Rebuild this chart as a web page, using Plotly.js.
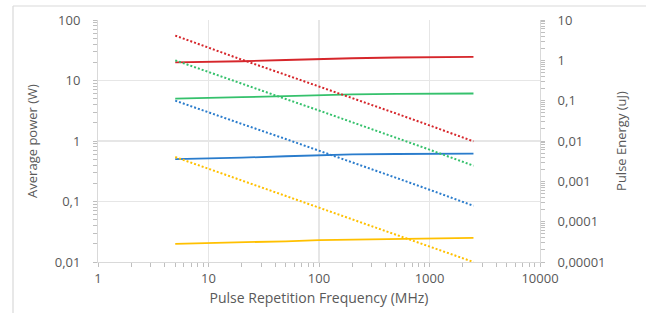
<!DOCTYPE html>
<html>
<head>
<meta charset="utf-8">
<script src="https://cdn.plot.ly/plotly-3.0.1.min.js"></script>
<style>html,body{margin:0;padding:0;background:#fff;}#chart{width:654px;height:313px;}</style>
</head>
<body>
<div id="chart"></div>
<script>
// Pulse repetition frequency (MHz)
const freq = [5, 10, 20, 50, 100, 200, 500, 1000, 2500];
// Average power (W), left axis
const powerRed    = [20, 20.3, 20.8, 21.8, 22.7, 23.3, 24, 24.4, 24.5];
const powerGreen  = [5.0, 5.1, 5.3, 5.5, 5.7, 5.9, 6.0, 6.1, 6.1];
const powerBlue   = [0.5, 0.51, 0.53, 0.56, 0.58, 0.6, 0.61, 0.62, 0.62];
const powerYellow = [0.020, 0.0205, 0.021, 0.022, 0.023, 0.0235, 0.024, 0.0245, 0.025];
// Pulse energy (uJ), right axis
const energyRed    = [4.1, 2.03, 1.04, 0.436, 0.227, 0.117, 0.048, 0.0244, 0.0098];
const energyGreen  = [1.0, 0.51, 0.265, 0.11, 0.057, 0.0295, 0.012, 0.0061, 0.00244];
const energyBlue   = [0.1, 0.051, 0.0265, 0.0112, 0.0058, 0.003, 0.00122, 0.00062, 0.000248];
const energyYellow = [0.004, 0.00205, 0.00105, 0.00044, 0.00023, 0.000118, 0.000048, 0.0000245, 0.00001];

const xTickVals = [1, 10, 100, 1000, 10000];
const xTickText = ['1', '10', '100', '1000', '10000'];
const yTickVals = [0.01, 0.1, 1, 10, 100];
const yTickText = ['0,01', '0,1', '1', '10', '100'];
const y2TickVals = [0.00001, 0.0001, 0.001, 0.01, 0.1, 1, 10];
const y2TickText = ['0,00001', '0,0001', '0,001', '0,01', '0,1', '1', '10'];

const colors = {red: '#d6262b', green: '#35c16c', blue: '#2a7ccc', yellow: '#ffc000'};

function minorVals(lo, hi) {
  const v = [];
  for (let e = lo; e < hi; e++) for (let m = 2; m <= 9; m++) v.push(m * Math.pow(10, e));
  return v;
}

const solid = (y, c) => ({x: freq, y: y, type: 'scatter', mode: 'lines', line: {color: c, width: 1.8}, yaxis: 'y', hoverinfo: 'skip'});
const dotted = (y, c) => ({x: freq, y: y, type: 'scatter', mode: 'lines', line: {color: c, width: 2, dash: '2px,2px'}, yaxis: 'y2', hoverinfo: 'skip'});

const data = [
  dotted(energyRed, colors.red), dotted(energyGreen, colors.green), dotted(energyBlue, colors.blue), dotted(energyYellow, colors.yellow),
  solid(powerRed, colors.red), solid(powerGreen, colors.green), solid(powerBlue, colors.blue), solid(powerYellow, colors.yellow)
];

const txt = '#595959';
const fnt = {family: 'Open Sans, sans-serif', size: 13, color: txt};
const layout = {
  width: 654, height: 313,
  margin: {l: 98, r: 114, t: 20, b: 51},
  showlegend: false,
  paper_bgcolor: '#fff', plot_bgcolor: '#fff',
  font: fnt,
  xaxis: {
    type: 'log', range: [0, 4],
    tickmode: 'array', tickvals: xTickVals, ticktext: xTickText,
    ticks: 'outside', ticklen: 4, tickcolor: '#bfbfbf',
    showgrid: true, gridcolor: '#e6e6e6', gridwidth: 1.5,
    showline: true, linecolor: '#d9d9d9', zeroline: false,
    minor: {tickmode: 'array', tickvals: minorVals(0, 4), ticks: 'outside', ticklen: 4, tickcolor: '#bfbfbf', showgrid: false},
    title: {text: 'Pulse Repetition Frequency (MHz)', font: {family: 'Open Sans, sans-serif', size: 14, color: txt}, standoff: 7},
    tickfont: fnt
  },
  yaxis: {
    type: 'log', range: [-2, 2],
    tickmode: 'array', tickvals: yTickVals, ticktext: yTickText,
    ticks: 'outside', ticklen: 4, tickcolor: '#bfbfbf',
    showgrid: true, gridcolor: '#e6e6e6', gridwidth: 1.5,
    showline: true, linecolor: '#d9d9d9', zeroline: false,
    minor: {tickmode: 'array', tickvals: minorVals(-2, 2), ticks: 'outside', ticklen: 4, tickcolor: '#bfbfbf', showgrid: false},
    title: {text: 'Average power (W)', font: {family: 'Open Sans, sans-serif', size: 13, color: txt}, standoff: 14},
    tickfont: fnt, ticklabelstandoff: 10
  },
  yaxis2: {
    type: 'log', range: [-5, 1], overlaying: 'y', side: 'right',
    tickmode: 'array', tickvals: y2TickVals, ticktext: y2TickText,
    ticks: 'outside', ticklen: 4, tickcolor: '#bfbfbf',
    showgrid: false, showline: true, linecolor: '#d9d9d9', zeroline: false,
    minor: {tickmode: 'array', tickvals: minorVals(-5, 1), ticks: 'outside', ticklen: 4, tickcolor: '#bfbfbf', showgrid: false},
    title: {text: 'Pulse Energy (uJ)', font: {family: 'Open Sans, sans-serif', size: 13, color: txt}, standoff: 12},
    tickfont: fnt, ticklabelstandoff: 10
  },
  shapes: [
    {type: 'line', xref: 'paper', yref: 'paper', x0: (13 - 98) / 442, x1: (13 - 98) / 442, y0: (262 - 6) / 242, y1: (262 - 320) / 242, line: {color: '#d9d9d9', width: 1.2}},
    {type: 'line', xref: 'paper', yref: 'paper', x0: (13 - 98) / 442, x1: (646 - 98) / 442, y0: (262 - 6) / 242, y1: (262 - 6) / 242, line: {color: '#d9d9d9', width: 1.2}}
  ]
};

Plotly.newPlot('chart', data, layout, {staticPlot: true, displayModeBar: false});
</script>
</body>
</html>
